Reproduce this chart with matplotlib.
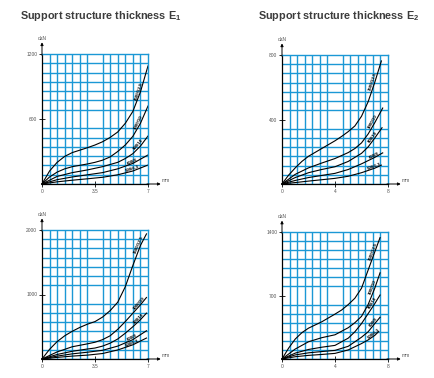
import numpy as np
import matplotlib
matplotlib.use("Agg")
import matplotlib.pyplot as plt

plt.rcParams['font.family'] = ['Liberation Sans', 'DejaVu Sans']

GRID_BLUE = '#1b98d5'

# ---- data (x in mm, y in daN) ----
tl_x = [[0, 0.5, 1, 1.5, 2, 3, 3.5, 4, 4.5, 5, 5.5, 6, 6.5, 7],
        [0, 0.5, 1, 1.5, 2, 3, 3.5, 4, 4.5, 5, 5.5, 6, 6.5, 7],
        [0, 1, 2, 3, 3.5, 4, 5, 5.5, 6, 6.5, 7],
        [0, 1, 2, 3, 4, 5, 6, 7],
        [0, 1, 2, 3, 4, 5, 6, 7]]
tl_y = [[0, 120, 200, 255, 290, 335, 360, 390, 430, 480, 560, 670, 850, 1090],
        [0, 65, 110, 140, 160, 185, 200, 220, 250, 300, 360, 440, 560, 720],
        [0, 70, 105, 130, 145, 160, 200, 235, 280, 350, 443],
        [0, 40, 65, 85, 105, 140, 190, 268],
        [0, 20, 35, 48, 62, 85, 120, 175]]

tr_x = [[0, 0.5, 1, 1.5, 2, 3, 4, 4.5, 5, 5.5, 6, 6.5, 7, 7.5],
        [0, 1, 2, 3, 4, 5, 5.5, 6, 6.5, 7, 7.6],
        [0, 1, 2, 3, 4, 5, 6, 6.5, 7, 7.55],
        [0, 1, 2, 3, 4, 5, 6, 7, 7.6],
        [0, 2, 4, 5, 6, 7, 7.5]]
tr_y = [[0, 55, 100, 140, 172, 220, 268, 295, 325, 360, 420, 510, 630, 763],
        [0, 60, 100, 130, 158, 195, 220, 255, 310, 380, 471],
        [0, 40, 70, 90, 107, 140, 190, 230, 285, 349],
        [0, 22, 40, 53, 66, 90, 125, 165, 193],
        [0, 18, 35, 48, 70, 98, 117]]

bl_x = [[0, 0.5, 1, 1.5, 2, 2.5, 3, 3.5, 4, 4.5, 5, 5.5, 6, 6.5, 6.9],
        [0, 1, 2, 3, 3.5, 4, 4.5, 5, 5.5, 6, 6.5, 6.9],
        [0, 1, 2, 3, 3.5, 4, 4.5, 5, 5.5, 6, 6.5, 6.9],
        [0, 1, 2, 3, 4, 5, 6, 6.9],
        [0, 1, 2, 3, 4, 5, 6, 6.9]]
bl_y = [[0, 150, 270, 360, 430, 490, 540, 580, 650, 750, 880, 1120, 1450, 1760, 1940],
        [0, 110, 190, 235, 260, 300, 360, 460, 580, 710, 840, 954],
        [0, 70, 120, 155, 170, 200, 245, 310, 400, 500, 610, 711],
        [0, 45, 80, 105, 135, 200, 300, 438],
        [0, 25, 45, 60, 85, 140, 220, 325]]

br_x = [[0, 0.5, 1, 1.5, 2, 3, 4, 4.5, 5, 5.5, 6, 6.5, 7, 7.4],
        [0, 1, 2, 3, 4, 5, 5.5, 6, 6.5, 7, 7.4],
        [0, 1, 2, 3, 4, 5, 5.5, 6, 6.5, 7, 7.4],
        [0, 1, 2, 3, 4, 5, 6, 6.5, 7, 7.4],
        [0, 1, 2, 3, 4, 5, 6, 6.5, 7, 7.3]]
br_y = [[0, 120, 220, 290, 340, 410, 495, 540, 600, 670, 780, 980, 1180, 1338],
        [0, 110, 190, 235, 267, 345, 400, 470, 600, 780, 950],
        [0, 65, 105, 130, 150, 230, 300, 390, 500, 610, 705],
        [0, 45, 68, 82, 95, 140, 240, 300, 390, 460],
        [0, 25, 40, 50, 62, 100, 170, 210, 260, 303]]

labels_e1 = ['1500/12.5', '1000/10', '800/10', '600/8', '500/6.3']
labels_e2 = ['1500/12.5', '1000/10', '800/10', '600/8', '500/6.3']

panels = [
    # (xs, ys, xmax, ymax, xticks, yticks, labels, rect in px: left, top, right, bottom)
    (tl_x, tl_y, 7, 1200, [0, 3.5, 7], [600, 1200], labels_e1, (42, 54, 148, 184)),
    (tr_x, tr_y, 8, 800, [0, 4, 8], [400, 800], labels_e2, (282, 55, 388, 184)),
    (bl_x, bl_y, 7, 2000, [0, 3.5, 7], [1000, 2000], labels_e1, (42, 230, 148, 359)),
    (br_x, br_y, 8, 1400, [0, 4, 8], [700, 1400], labels_e2, (282, 232, 388, 359)),
]

W, H = 435, 378
fig = plt.figure(figsize=(W / 100, H / 100), dpi=100)

fig.text(20 / W, 1 - 16 / H, 'Support structure thickness E$_\\mathregular{1}$',
         fontsize=7.8, fontweight='bold', color='#3c3c3c', va='center')
fig.text(258 / W, 1 - 16 / H, 'Support structure thickness E$_\\mathregular{2}$',
         fontsize=7.8, fontweight='bold', color='#3c3c3c', va='center')

for xs, ys, xmax, ymax, xt, yt, labs, (l, t, r, b) in panels:
    ax = fig.add_axes([l / W, 1 - b / H, (r - l) / W, (b - t) / H])
    ax.set_xlim(0, xmax)
    ax.set_ylim(0, ymax)

    # 14 x 14 blue grid
    ax.set_xticks(np.linspace(0, xmax, 15), minor=True)
    ax.set_yticks(np.linspace(0, ymax, 15), minor=True)
    ax.grid(which='minor', color=GRID_BLUE, lw=1.0)
    ax.tick_params(which='minor', length=0)
    ax.set_axisbelow(True)

    ax.set_xticks(xt)
    ax.set_xticklabels([('%g' % v) for v in xt])
    ax.set_yticks(yt)
    ax.set_yticklabels([str(v) for v in yt])
    ax.tick_params(which='major', length=4, width=0.6, labelsize=3.5,
                   labelcolor='#555555', pad=1.5, direction='inout')

    for s in ['top', 'right']:
        ax.spines[s].set_color(GRID_BLUE)
        ax.spines[s].set_linewidth(1.0)
    for s in ['left', 'bottom']:
        ax.spines[s].set_color('black')
        ax.spines[s].set_linewidth(0.9)

    # axis arrows and units
    ax.annotate('', xy=(0, 1.09), xytext=(0, 0.99), xycoords='axes fraction',
                arrowprops=dict(arrowstyle='-|>', lw=0.7, color='k',
                                mutation_scale=4, shrinkA=0, shrinkB=0))
    ax.annotate('', xy=(1.12, 0), xytext=(0.99, 0), xycoords='axes fraction',
                arrowprops=dict(arrowstyle='-|>', lw=0.7, color='k',
                                mutation_scale=4, shrinkA=0, shrinkB=0))
    ax.text(0, 1.10, 'daN', transform=ax.transAxes, fontsize=3.5,
            color='#555555', ha='center', va='bottom')
    ax.text(1.13, 0.005, 'mm', transform=ax.transAxes, fontsize=3.5,
            color='#555555', ha='left', va='bottom')

    for x, y, lab in zip(xs, ys, labs):
        ax.plot(x, y, color='black', lw=0.8, clip_on=False)
        # label along the upper end of the curve
        p1 = ax.transData.transform((x[-3], y[-3]))
        p2 = ax.transData.transform((x[-1], y[-1]))
        ang = np.degrees(np.arctan2(p2[1] - p1[1], p2[0] - p1[0]))
        ax.text(x[-2], y[-2], lab, fontsize=3.2, rotation=ang,
                rotation_mode='anchor', ha='center', va='bottom',
                color='black', fontweight='bold', clip_on=False)

fig.savefig('out.png', dpi=100)
